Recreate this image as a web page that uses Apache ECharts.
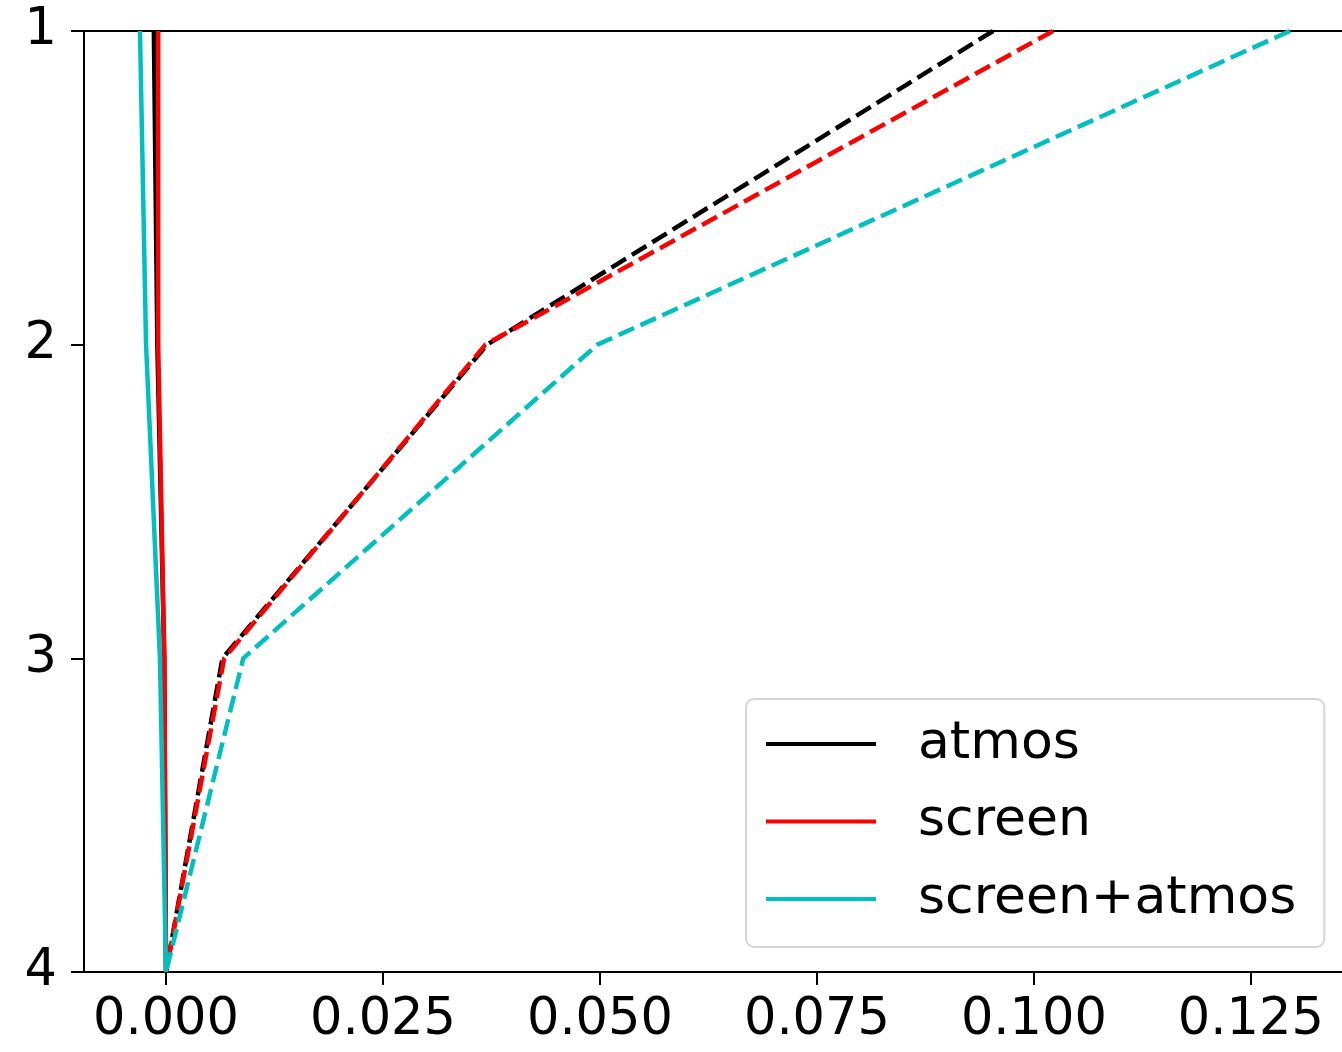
<!DOCTYPE html>
<html>
<head>
<meta charset="utf-8">
<script src="https://cdn.jsdelivr.net/npm/echarts@6/dist/echarts.min.js"></script>
<style>
  html, body { margin: 0; padding: 0; background: #fff; }
  #main { width: 1342px; height: 1052px; }
</style>
</head>
<body>
<div id="main"></div>
<script>
var levels = [1, 2, 3, 4];
var xTicks = [0, 0.025, 0.05, 0.075, 0.1, 0.125];

// solid lines (legend entries)
var atmosSolid = [-0.0014, -0.001, -0.0002, 0.0];
var screenSolid = [-0.0009, -0.0009, -0.0002, 0.0];
var bothSolid = [-0.003, -0.0023, -0.0007, 0.0];

// dashed lines
var atmosDash = [0.0953, 0.037, 0.0065, 0.0];
var screenDash = [0.1022, 0.0368, 0.0067, 0.0];
var bothDash = [0.1295, 0.0497, 0.0089, 0.0];

var black = '#000000', red = '#ff0000', cyan = '#00bfbf';
var font = 'DejaVu Sans';

function pts(vals) {
  return vals.map(function (v, i) { return [v, levels[i]]; });
}

function line(name, vals, color, dashed) {
  return {
    name: name,
    type: 'line',
    data: pts(vals),
    symbol: 'none',
    itemStyle: { color: color },
    lineStyle: { color: color, width: 4.5, type: dashed ? [17, 7] : 'solid' },
    xAxisIndex: 0,
    yAxisIndex: 0
  };
}

var chart = echarts.init(document.getElementById('main'));
var option = {
  animation: false,
  backgroundColor: '#fff',
  grid: { left: 84, top: 31, right: 0, bottom: 80 },
  legend: {
    orient: 'vertical',
    left: 746,
    top: 699,
    data: ['atmos', 'screen', 'screen+atmos'],
    icon: 'rect',
    itemWidth: 110,
    itemHeight: 4,
    itemGap: 25.5,
    padding: [19, 28, 22, 20],
    backgroundColor: 'rgba(255,255,255,0.8)',
    borderColor: '#d5d5d5',
    borderWidth: 2,
    borderRadius: 8,
    textStyle: { fontFamily: font, fontSize: 52, lineHeight: 52, color: '#000', padding: [0, 0, 0, 37] }
  },
  xAxis: [{
    type: 'value',
    min: -0.00945,
    max: 0.1355,
    axisLine: { show: true, onZero: false, lineStyle: { color: '#000', width: 2 } },
    axisTick: { show: true, customValues: xTicks, length: 13, lineStyle: { color: '#000', width: 2 } },
    axisLabel: {
      customValues: xTicks,
      fontFamily: font, fontSize: 51, color: '#000', margin: 23,
      formatter: function (v) { return v.toFixed(3); }
    },
    splitLine: { show: false }
  }, {
    type: 'value',
    position: 'top',
    min: -0.00945,
    max: 0.1355,
    axisLine: { show: true, onZero: false, lineStyle: { color: '#000', width: 2 } },
    axisTick: { show: false },
    axisLabel: { show: false },
    splitLine: { show: false }
  }],
  yAxis: {
    type: 'value',
    inverse: true,
    min: 1,
    max: 4,
    interval: 1,
    axisLine: { show: true, onZero: false, lineStyle: { color: '#000', width: 2 } },
    axisTick: { show: true, length: 13, lineStyle: { color: '#000', width: 2 } },
    axisLabel: { fontFamily: font, fontSize: 51, color: '#000', margin: 27 },
    splitLine: { show: false }
  },
  series: [
    line('atmos', atmosSolid, black, false),
    line('atmos dashed', atmosDash, black, true),
    line('screen', screenSolid, red, false),
    line('screen dashed', screenDash, red, true),
    line('screen+atmos', bothSolid, cyan, false),
    line('screen+atmos dashed', bothDash, cyan, true)
  ]
};
option && chart.setOption(option);
</script>
</body>
</html>
